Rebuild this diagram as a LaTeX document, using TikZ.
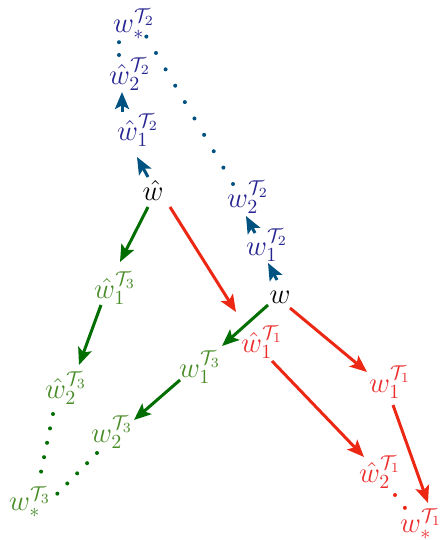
\documentclass[tikz,border=0pt]{standalone}
\usetikzlibrary{arrows.meta,calc}
\definecolor{tblue}{RGB}{38,36,145}
\definecolor{ablue}{RGB}{0,82,128}
\definecolor{tgreen}{RGB}{72,140,40}
\definecolor{agreen}{RGB}{0,110,0}
\definecolor{tred}{RGB}{236,44,44}
\definecolor{ared}{RGB}{236,40,20}
\begin{document}
\begin{tikzpicture}[x=0.5pt,y=-0.5pt,
  lbl/.style={inner sep=0pt, font=\Large},
  arr/.style={line width=1.5pt, -{Stealth[length=8.5pt,width=7pt,inset=1.8pt]}},
  dotline/.style={line width=2pt, line cap=round, dash pattern=on 0pt off #1}]
\useasboundingbox (0,0) rectangle (441,540);
% nodes
\node[lbl,tblue] (wsT2) at (134,24) {$w_*^{\mathcal{T}_2}$};
\node[lbl,tblue] (h2T2) at (130,74) {$\hat{w}_2^{\mathcal{T}_2}$};
\node[lbl,tblue] (h1T2) at (138,130) {$\hat{w}_1^{\mathcal{T}_2}$};
\node[lbl] (hw) at (153,190) {$\hat{w}$};
\node[lbl,tblue] (w2T2) at (248,197) {$w_2^{\mathcal{T}_2}$};
\node[lbl,tblue] (w1T2) at (267,245) {$w_1^{\mathcal{T}_2}$};
\node[lbl] (w) at (280,297) {$w$};
\node[lbl,tgreen] (h1T3) at (115,288) {$\hat{w}_1^{\mathcal{T}_3}$};
\node[lbl,tgreen] (h2T3) at (66,388) {$\hat{w}_2^{\mathcal{T}_3}$};
\node[lbl,tgreen] (wsT3) at (30,502) {$w_*^{\mathcal{T}_3}$};
\node[lbl,tgreen] (w1T3) at (200,367) {$w_1^{\mathcal{T}_3}$};
\node[lbl,tgreen] (w2T3) at (112,432) {$w_2^{\mathcal{T}_3}$};
\node[lbl,tred] (h1T1) at (262,342) {$\hat{w}_1^{\mathcal{T}_1}$};
\node[lbl,tred] (w1T1) at (390,382) {$w_1^{\mathcal{T}_1}$};
\node[lbl,tred] (h2T1) at (380,472) {$\hat{w}_2^{\mathcal{T}_1}$};
\node[lbl,tred] (wsT1) at (421,524) {$w_*^{\mathcal{T}_1}$};
% green arrows
\draw[arr,agreen] ($(hw)+(-5,17)$) -- ($(h1T3)+(5,-26)$);
\draw[arr,agreen] ($(w)+(-12,8)$) -- ($(w1T3)+(22,-21)$);
\draw[arr,agreen] ($(h1T3)+(-14,17)$) -- ($(h2T3)+(13,-23)$);
\draw[arr,agreen] ($(w1T3)+(-20,13)$) -- ($(w2T3)+(22,-12)$);
% red arrows
\draw[arr,ared] ($(hw)+(17,17)$) -- ($(h1T1)+(-26,-30)$);
\draw[arr,ared] ($(w)+(10,11)$) -- ($(w1T1)+(-23,-10)$);
\draw[arr,ared] ($(h1T1)+(10,19)$) -- ($(h2T1)+(-16,-15)$);
\draw[arr,ared] ($(w1T1)+(3,23)$) -- ($(wsT1)+(7,-21)$);
% blue arrows
\draw[arr,ablue] ($(w)+(-3,-17)$) -- ($(w1T2)+(1,18)$);
\draw[arr,ablue] ($(w1T2)+(-12,-12)$) -- ($(w2T2)+(-2,19)$);
\draw[arr,ablue] ($(hw)+(-5,-13)$) -- ($(h1T2)+(-1,27)$);
\draw[arr,ablue] ($(h1T2)+(-16,-18)$) -- ($(h2T2)+(-8,18)$);
% dotted
\draw[dotline=6.4pt,ablue] ($(h2T2)+(-11,-19)$) -- ($(wsT2)+(-15,18)$);
\draw[dotline=9.5pt,ablue] ($(w2T2)+(-15,-13)$) -- ($(wsT2)+(12,12)$);
\draw[dotline=7.35pt,agreen] ($(h2T3)+(-13,26)$) -- ($(wsT3)+(11,-30)$);
\draw[dotline=7.1pt,agreen] ($(w2T3)+(-15,21)$) -- ($(wsT3)+(27,-8)$);
\draw[dotline=8.1pt,ared] ($(h2T1)+(15,23)$) -- ($(wsT1)+(-16,-16)$);
\end{tikzpicture}
\end{document}
